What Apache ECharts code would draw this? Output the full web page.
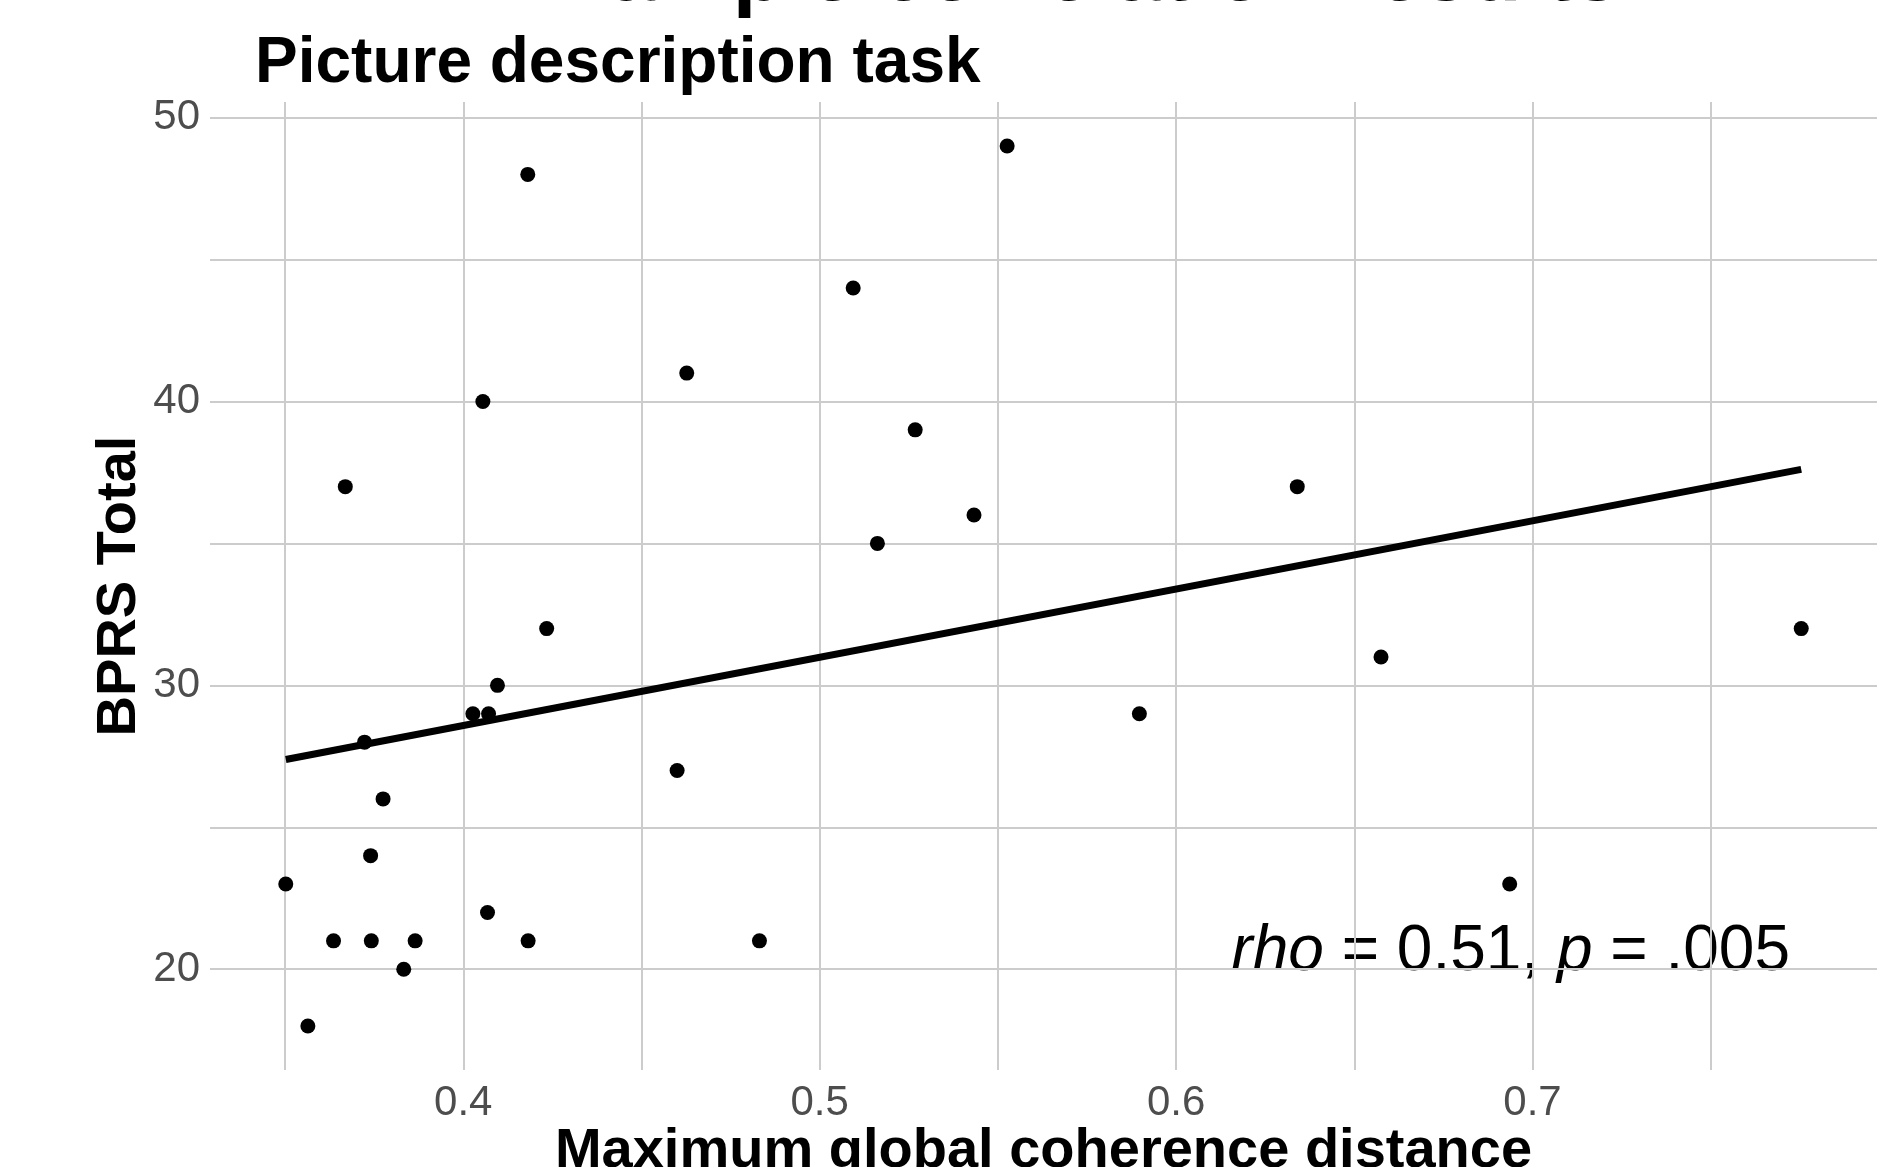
<!DOCTYPE html>
<html>
<head>
<meta charset="utf-8">
<title>Example correlation results</title>
<script src="https://cdn.jsdelivr.net/npm/echarts@6/dist/echarts.min.js"></script>
<style>
  html, body { margin: 0; padding: 0; background: #fff; }
  #main { width: 1902px; height: 1167px; }
</style>
</head>
<body>
<div id="main"></div>
<script>
// values
var coherence = [
  0.3502, 0.3564, 0.3636, 0.3669, 0.3723, 0.3740, 0.3742, 0.3775, 0.3833, 0.3865,
  0.4027, 0.4055, 0.4068, 0.4071, 0.4096, 0.4181, 0.4182, 0.4234, 0.4600, 0.4627,
  0.4831, 0.5094, 0.5162, 0.5268, 0.5433, 0.5526, 0.5897, 0.6340, 0.6575, 0.6936,
  0.7754
];
var bprs = [
  23, 18, 21, 37, 28, 24, 21, 26, 20, 21,
  29, 40, 22, 29, 30, 48, 21, 32, 27, 41,
  21, 44, 35, 39, 36, 49, 29, 37, 31, 23,
  32
];
// ends of the fitted line
var fitX = [0.3502, 0.7754];
var fitY = [27.39, 37.61];

var font = 'Liberation Sans, Arial, sans-serif';

var points = coherence.map(function (x, i) { return [x, bprs[i]]; });
var fit = fitX.map(function (x, i) { return [x, fitY[i]]; });

// ggplot style 5% expansion
function lo(v) { return v.min - 0.05 * (v.max - v.min); }
function hi(v) { return v.max + 0.05 * (v.max - v.min); }

var chart = echarts.init(document.getElementById('main'));

chart.setOption({
  animation: false,
  backgroundColor: '#ffffff',
  textStyle: { fontFamily: font },
  title: [{
    text: 'Example correlation results',
    left: 501,
    top: -71,
    textStyle: { fontSize: 85, fontWeight: 'bold', color: '#000', fontFamily: font }
  }, {
    text: 'Picture description task',
    left: 250,
    top: 27,
    textStyle: { fontSize: 64, fontWeight: 'bold', color: '#000', fontFamily: font }
  }],
  grid: { left: 210, right: 25, top: 102, bottom: 97, outerBoundsMode: 'none', containLabel: false },
  xAxis: {
    type: 'value',
    min: lo,
    max: hi,
    splitNumber: 10,
    minInterval: 0.05,
    maxInterval: 0.05,
    axisLine: { show: false },
    axisTick: { show: false },
    axisLabel: {
      fontSize: 42,
      color: '#4d4d4d',
      margin: 12,
      showMinLabel: false,
      showMaxLabel: false,
      formatter: function (v) {
        var t = Math.round(v * 10);
        return Math.abs(v * 10 - t) < 1e-6 ? (t / 10).toFixed(1) : '';
      }
    },
    splitLine: {
      show: true,
      showMinLine: false,
      showMaxLine: false,
      lineStyle: { color: '#cccccc', width: 2 }
    },
    name: 'Maximum global coherence distance',
    nameLocation: 'middle',
    nameGap: 54,
    nameMoveOverlap: false,
    nameTextStyle: { fontSize: 56, fontWeight: 'bold', color: '#000' }
  },
  yAxis: {
    type: 'value',
    min: lo,
    max: hi,
    splitNumber: 7,
    minInterval: 5,
    maxInterval: 5,
    axisLine: { show: false },
    axisTick: { show: false },
    axisLabel: {
      fontSize: 42,
      color: '#4d4d4d',
      margin: 10,
      showMinLabel: false,
      showMaxLabel: false,
      formatter: function (v) {
        return Math.abs(v % 10) < 1e-6 ? String(v) : '';
      }
    },
    splitLine: {
      show: true,
      showMinLine: false,
      showMaxLine: false,
      lineStyle: { color: '#cccccc', width: 2 }
    },
    name: 'BPRS Total',
    nameLocation: 'middle',
    nameGap: 62,
    nameMoveOverlap: false,
    nameTextStyle: { fontSize: 56, fontWeight: 'bold', color: '#000' }
  },
  graphic: [{
    type: 'text',
    right: 112,
    top: 920,
    style: {
      text: '{i|rho} = 0.51, {i|p} = .005',
      fill: '#000',
      font: '64px ' + font,
      rich: {
        i: { fontStyle: 'italic', fontSize: 64, fontFamily: font, fill: '#000' }
      }
    }
  }],
  series: [{
    name: 'fit',
    type: 'line',
    data: fit,
    symbol: 'none',
    lineStyle: { color: '#000', width: 7 },
    z: 3
  }, {
    name: 'participants',
    type: 'scatter',
    data: points,
    symbolSize: 15,
    itemStyle: { color: '#000', opacity: 1 },
    z: 4
  }]
});
</script>
</body>
</html>
